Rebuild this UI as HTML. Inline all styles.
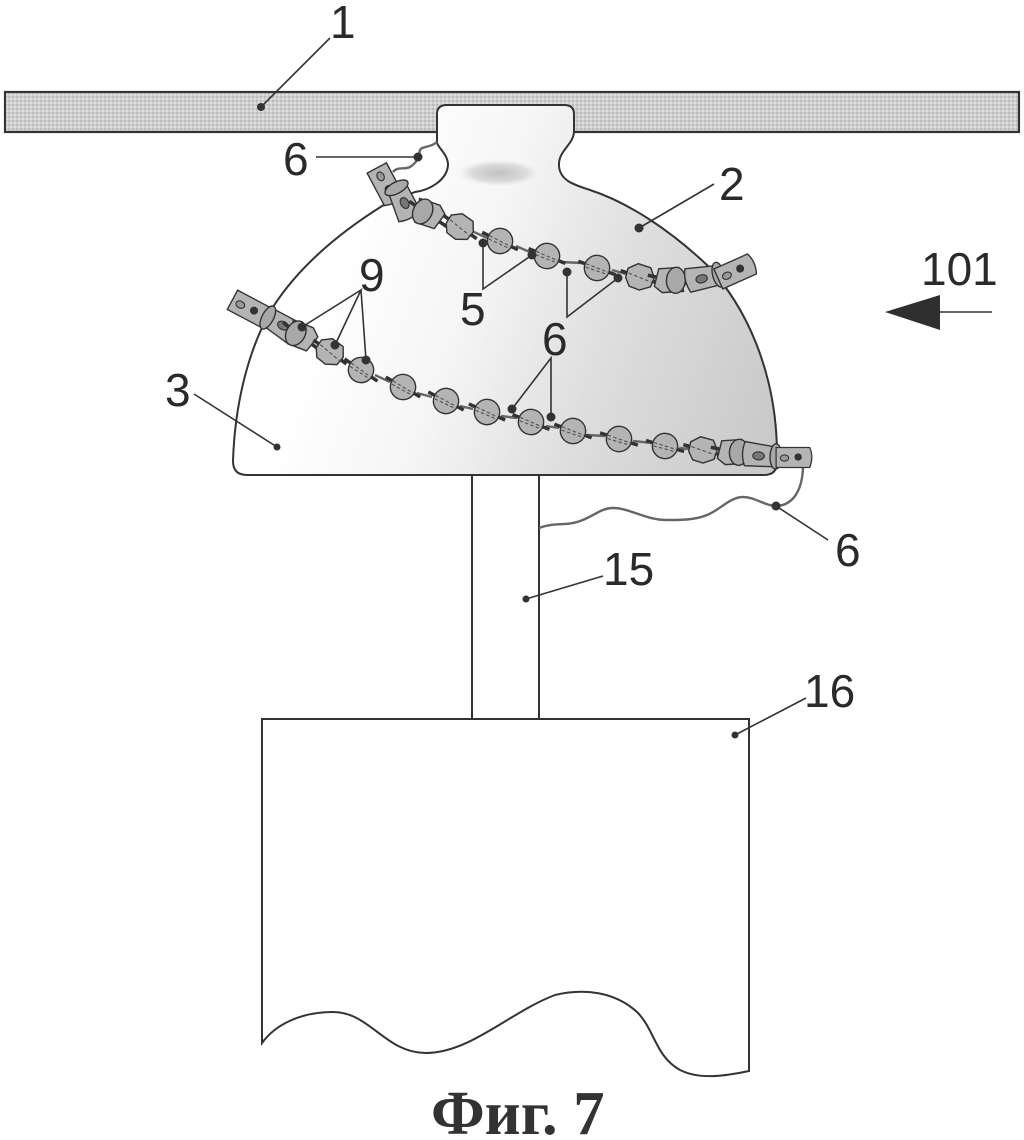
<!DOCTYPE html>
<html><head><meta charset="utf-8"><style>
html,body{margin:0;padding:0;background:#fff}
svg{display:block}
text{font-family:"Liberation Sans",sans-serif;font-size:46px;fill:#2a2a2a}
.t{font-family:"Liberation Serif",serif;font-weight:bold;font-size:62.5px;fill:#333}
.l{stroke:#333;stroke-width:1.6;fill:none}
.o{stroke:#333;stroke-width:2;fill:none}
.w{stroke:#666;stroke-width:2.4;fill:none}
.b{fill:#b4b4b4;stroke:#333;stroke-width:1.2}
.c{fill:#a8a8a8;stroke:#333;stroke-width:1.2}
.r{stroke:#333;stroke-width:3;fill:none}
.d{stroke:#555;stroke-width:1;stroke-dasharray:3 2;fill:none}
</style></head><body>
<svg width="1024" height="1140" viewBox="0 0 1024 1140" xmlns="http://www.w3.org/2000/svg">
<defs>
<linearGradient id="dome" gradientUnits="userSpaceOnUse" x1="330" y1="280" x2="770" y2="440">
<stop offset="0" stop-color="#ffffff"/><stop offset=".3" stop-color="#f5f5f5"/><stop offset=".6" stop-color="#dedede"/><stop offset="1" stop-color="#c9c9c9"/>
</linearGradient>
<radialGradient id="hi"><stop offset="0" stop-color="#c0c0c0"/><stop offset=".6" stop-color="#dcdcdc"/><stop offset="1" stop-color="#fff" stop-opacity="0"/></radialGradient>
<pattern id="bar" width="4" height="4" patternUnits="userSpaceOnUse"><rect width="4" height="4" fill="#cfcfcf"/><rect width="2" height="2" fill="#bcbcbc"/><rect x="2" y="2" width="2" height="2" fill="#dedede"/></pattern>
<g id="ball"><path class="r" d="M-17 -3L17 3"/><circle class="b" r="11"/><path class="d" d="M-10 -2L10 2M-10 1L10 4"/></g>
<g id="hex"><path class="r" d="M-17 -3L17 3"/><path class="b" d="M-11 -6L-3 -11L8 -9L12 -1L10 7L1 11L-8 9L-12 2Z"/><path class="d" d="M-10 -2L10 3"/></g>
<g id="cyl"><path class="r" d="M-19 -3L19 3"/><path class="b" d="M-10 -9L7 -11L12 9L-6 11L-13 6Z"/><ellipse class="c" cx="5" cy="0" rx="8" ry="11"/></g>
<g id="block"><path class="b" d="M-15 -12L13 -8Q16 0 12 9L-15 9Q-19 -2 -15 -12Z"/><ellipse cx="-3" cy="0" rx="5" ry="3.5" fill="#777" stroke="#333"/><ellipse class="c" cx="12" cy="0" rx="5" ry="11"/></g>
<g id="end"><path class="b" d="M-18 -9L14 -9Q18 0 14 10L-18 10Z"/><circle r="3.5" cx="3" fill="#333"/><ellipse cx="-10" cy="1" rx="4" ry="3" fill="#999" stroke="#333"/></g>
</defs>
<rect width="1024" height="1140" fill="#fff"/>

<rect x="5" y="92" width="1014" height="40" fill="url(#bar)" stroke="#333" stroke-width="2.2"/>

<path d="M437 143V114Q437 105 447 105H564Q574 105 574 114V131C574 145 558 150 559 166C560 181 575 185 590 190C630 203 672 232 707 265C745 305 776 370 777 452V462Q777 475 764 475H247Q233 475 233 461C235 400 250 345 273 307C300 265 343 230 387 203L415 192C430 190 447 180 448 165C448 155 440 150 437 143Z" fill="url(#dome)" stroke="#333" stroke-width="2"/>
<ellipse cx="499" cy="173" rx="47" ry="15" fill="url(#hi)"/>

<path class="o" d="M472 475V719M539 475V719"/>
<path d="M262 719H749V1071C725 1076 700 1080 680 1070C655 1056 655 1030 637 1012C615 992 585 988 555 995C510 1012 470 1053 426 1053C385 1053 370 1012 333 1012C300 1012 275 1025 262 1043Z" fill="#fff" stroke="#333" stroke-width="2"/>

<path class="w" d="M539 528C555 522 565 526 577 522C592 518 600 508 613 508C630 508 645 520 667 520C682 520 695 520 707 515C720 510 730 497 743 497C755 497 765 506 777 506C792 505 802 492 803 468"/>
<path class="w" d="M437 142C430 148 422 146 420 150C418 160 416 163 410 167C404 170 398 166 393 172"/>
<path class="w" stroke-width="1.5" d="M415 217L437 222M474 232L487 238M516 246L532 253M560 262L582 263M612 270L626 274M650 282L660 283M375 375L390 382M417 393L432 397M460 406L473 409M501 416L517 418M546 426L559 428M587 435L605 436M633 441L652 443M679 448L690 449"/>

<g transform="translate(387 186) rotate(62) scale(1.15)"><use href="#end"/></g>
<g transform="translate(403 200) rotate(242) scale(1.15)"><use href="#block"/></g>
<g transform="translate(428 214) rotate(205) scale(1.18)"><use href="#cyl"/></g>
<use href="#hex" transform="translate(460 227) rotate(25) scale(1.18)"/>
<use href="#ball" transform="translate(500 241) rotate(16) scale(1.15)"/>
<use href="#ball" transform="translate(547 256) rotate(12) scale(1.15)"/>
<use href="#ball" transform="translate(597 268) rotate(10) scale(1.15)"/>
<use href="#hex" transform="translate(640 277) rotate(8) scale(1.18)"/>
<use href="#cyl" transform="translate(670 280) rotate(3) scale(1.18)"/>
<g transform="translate(705 278) rotate(-14) scale(1.15)"><use href="#block"/></g>
<g transform="translate(737 270) rotate(-24) scale(1.15)"><use href="#end"/></g>

<g transform="translate(251 309) rotate(28) scale(1.15)"><use href="#end"/></g>
<g transform="translate(280 324) rotate(208) scale(1.15)"><use href="#block"/></g>
<use href="#cyl" transform="translate(301 336) rotate(208) scale(1.18)"/>
<use href="#hex" transform="translate(330 352) rotate(26) scale(1.18)"/>
<use href="#ball" transform="translate(361 370) rotate(24) scale(1.15)"/>
<use href="#ball" transform="translate(403 387) rotate(20) scale(1.15)"/>
<use href="#ball" transform="translate(446 401) rotate(17) scale(1.15)"/>
<use href="#ball" transform="translate(487 412) rotate(14) scale(1.15)"/>
<use href="#ball" transform="translate(531 422) rotate(12) scale(1.15)"/>
<use href="#ball" transform="translate(573 431) rotate(10) scale(1.15)"/>
<use href="#ball" transform="translate(619 439) rotate(8) scale(1.15)"/>
<use href="#ball" transform="translate(665 446) rotate(6) scale(1.15)"/>
<use href="#hex" transform="translate(703 450) rotate(5) scale(1.18)"/>
<use href="#cyl" transform="translate(733 452) rotate(3) scale(1.18)"/>
<g transform="translate(762 456) rotate(2) scale(1.15)"><use href="#block"/></g>
<g transform="translate(795 457) scale(1.05)"><use href="#end"/></g>

<g fill="#333">
<circle cx="261" cy="107" r="4"/><circle cx="418" cy="157" r="4.5"/><circle cx="639" cy="228" r="4.5"/>
<circle cx="483" cy="243" r="4.5"/><circle cx="532" cy="255" r="4.5"/><circle cx="567" cy="272" r="4.5"/><circle cx="618" cy="278" r="4.5"/>
<circle cx="302" cy="327" r="4.5"/><circle cx="335" cy="345" r="4.5"/><circle cx="366" cy="360" r="4.5"/>
<circle cx="512" cy="409" r="4.5"/><circle cx="551" cy="417" r="4.5"/><circle cx="277" cy="447" r="3.5"/>
<circle cx="776" cy="506" r="4.5"/><circle cx="526" cy="599" r="3.5"/><circle cx="735" cy="735" r="3.5"/>
</g>
<g class="l">
<path d="M261 107L330 38"/>
<path d="M316 157H418"/>
<path d="M639 228L714 184"/>
<path d="M483 243V289L532 255"/>
<path d="M567 272V317L618 278"/>
<path d="M302 327L361 290L335 345M361 290L366 360"/>
<path d="M512 409L551 358V417"/>
<path d="M194 394L277 447"/>
<path d="M776 506L828 540"/>
<path d="M526 599L603 576"/>
<path d="M735 735L806 698"/>
</g>

<path d="M885 312L940 295V330Z" fill="#2f2f2f"/>
<path class="l" d="M940 312H992"/>

<text x="330" y="38">1</text>
<text x="283" y="175">6</text>
<text x="719" y="200">2</text>
<text x="359" y="291">9</text>
<text x="460" y="325">5</text>
<text x="542" y="355">6</text>
<text x="165" y="406">3</text>
<text x="835" y="566">6</text>
<text x="603" y="585">15</text>
<text x="804" y="707">16</text>
<text x="921" y="285">101</text>
<text class="t" x="431" y="1134">Фиг. 7</text>
</svg>
</body></html>
